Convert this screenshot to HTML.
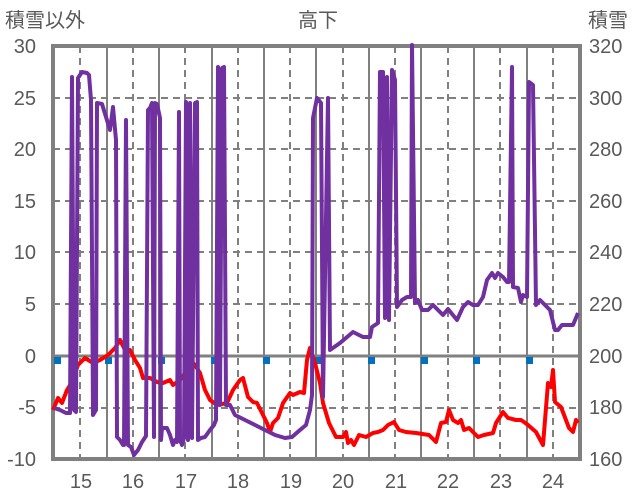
<!DOCTYPE html>
<html><head><meta charset="utf-8"><style>body{margin:0;background:#fff}svg{display:block}text{font-family:"Liberation Sans","Noto Sans CJK JP",sans-serif;fill:#595959}</style></head><body>
<svg width="636" height="501" viewBox="0 0 636 501">
<g stroke="#808080" stroke-width="2" stroke-dasharray="7,5">
<line x1="53" x2="580" y1="98" y2="98"/><line x1="53" x2="580" y1="149" y2="149"/><line x1="53" x2="580" y1="201" y2="201"/><line x1="53" x2="580" y1="252" y2="252"/><line x1="53" x2="580" y1="304" y2="304"/><line x1="53" x2="580" y1="408" y2="408"/>
<line y1="46" y2="459" x1="80" x2="80"/><line y1="46" y2="459" x1="133" x2="133"/><line y1="46" y2="459" x1="185" x2="185"/><line y1="46" y2="459" x1="238" x2="238"/><line y1="46" y2="459" x1="290" x2="290"/><line y1="46" y2="459" x1="343" x2="343"/><line y1="46" y2="459" x1="395" x2="395"/><line y1="46" y2="459" x1="448" x2="448"/><line y1="46" y2="459" x1="500" x2="500"/><line y1="46" y2="459" x1="553" x2="553"/>
</g>
<g stroke="#808080" stroke-width="2">
<line y1="46" y2="459" x1="107" x2="107"/><line y1="46" y2="459" x1="159" x2="159"/><line y1="46" y2="459" x1="212" x2="212"/><line y1="46" y2="459" x1="264" x2="264"/><line y1="46" y2="459" x1="316" x2="316"/><line y1="46" y2="459" x1="369" x2="369"/><line y1="46" y2="459" x1="421" x2="421"/><line y1="46" y2="459" x1="474" x2="474"/><line y1="46" y2="459" x1="527" x2="527"/>
<line x1="53" x2="580" y1="356" y2="356" stroke-width="3"/>
</g>
<rect x="53" y="46" width="527" height="413" fill="none" stroke="#808080" stroke-width="4"/>
<g fill="#0070C0"><rect x="54" y="357" width="7" height="7"/><rect x="105" y="357" width="7" height="7"/><rect x="158" y="357" width="7" height="7"/><rect x="211" y="357" width="7" height="7"/><rect x="263" y="357" width="7" height="7"/><rect x="315" y="357" width="7" height="7"/><rect x="368" y="357" width="7" height="7"/><rect x="421" y="357" width="7" height="7"/><rect x="473" y="357" width="7" height="7"/><rect x="526" y="357" width="7" height="7"/></g>
<polyline fill="none" stroke="#FF0000" stroke-width="4" stroke-linejoin="round" points="53,410 58,398 62,403 67,390 72,382 78,365 85,358 93,363 100,360 108,355 115,348 120,340 125,350 130,350 135,360 140,368 143,378 150,378 157,382 163,383 170,380 173,385 180,380 185,373 190,360 195,365 200,373 205,390 210,400 217,405 227,403 233,390 240,380 243,378 248,397 253,402 257,403 262,413 267,423 270,432 273,423 278,418 283,403 290,393 293,395 300,392 304,393 307,360 310,348 315,363 320,383 323,403 329,423 336,437 343,437 346,432 348,443 351,440 354,445 359,435 366,437 373,433 378,432 383,430 388,425 394,422 399,430 406,432 416,433 429,435 436,442 441,423 446,422 449,410 453,420 458,423 461,420 464,430 469,428 478,437 484,435 493,433 496,423 503,412 508,418 516,420 521,420 524,422 528,425 536,432 543,445 548,383 551,387 553,370 555,402 561,407 569,428 573,432 576,420 578,423"/>
<polyline fill="none" stroke="#7030A0" stroke-width="4" stroke-linejoin="round" points="54,408 60,410 66,413 70,413 72,77 74,410 76,412 78,78 82,72 87,73 89,75 91,100 93,415 96,410 97,103 102,104 106,117 110,130 113,107 116,140 117,437 120,440 123,445 124,445 126,120 128,445 131,447 134,455 138,450 142,442 146,436 148,110 150,108 152,103 154,437 155,103 157,104 160,118 161,440 162,428 167,428 170,435 173,445 175,440 177,442 179,112 180,440 182,445 184,438 186,102 188,440 190,103 192,438 195,103 197,102 198,440 201,438 205,437 210,430 214,425 216,420 218,67 220,405 222,68 224,67 226,405 230,405 235,415 245,420 255,425 265,430 275,435 285,438 292,437 300,430 306,425 310,410 312,395 313,118 317,98 321,103 323,397 328,98 330,350 340,343 353,332 363,337 370,337 372,327 378,323 380,72 383,72 385,318 387,77 389,320 392,70 395,80 397,307 402,300 407,297 411,297 412,45 415,303 418,300 422,310 428,310 433,305 443,315 448,309 457,320 463,307 468,302 473,305 478,305 483,297 487,280 492,273 495,278 498,273 503,277 507,282 509,282 512,67 513,287 518,288 521,302 523,295 527,297 529,82 533,85 536,305 540,300 545,305 550,310 555,330 558,330 562,325 573,325 578,313"/>
<g font-size="20" text-anchor="end"><text x="36" y="53">30</text><text x="36" y="105">25</text><text x="36" y="156">20</text><text x="36" y="208">15</text><text x="36" y="259">10</text><text x="36" y="311">5</text><text x="36" y="363">0</text><text x="36" y="414">-5</text><text x="36" y="466">-10</text></g>
<g font-size="20"><text x="589" y="53">320</text><text x="589" y="105">300</text><text x="589" y="156">280</text><text x="589" y="208">260</text><text x="589" y="259">240</text><text x="589" y="311">220</text><text x="589" y="363">200</text><text x="589" y="414">180</text><text x="589" y="466">160</text></g>
<g font-size="20" text-anchor="middle"><text x="81" y="488">15</text><text x="133" y="488">16</text><text x="186" y="488">17</text><text x="238" y="488">18</text><text x="291" y="488">19</text><text x="343" y="488">20</text><text x="396" y="488">21</text><text x="448" y="488">22</text><text x="501" y="488">23</text><text x="553" y="488">24</text></g>
<text x="5" y="27" font-size="20">積雪以外</text>
<text x="318" y="27" font-size="20" text-anchor="middle">高下</text>
<text x="588" y="27" font-size="20">積雪</text>
</svg>
</body></html>
